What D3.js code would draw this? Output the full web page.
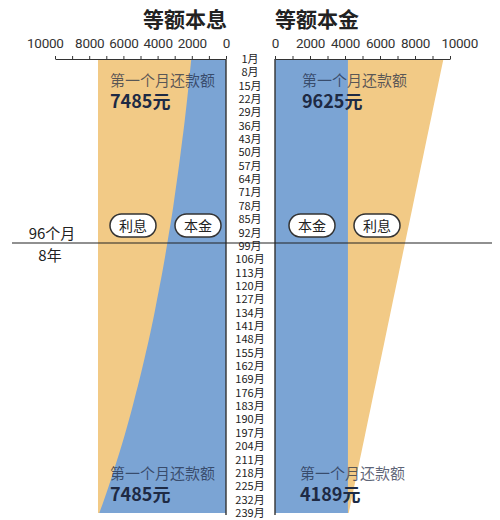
<!DOCTYPE html>
<html>
<head>
<meta charset="utf-8">
<script src="https://cdn.jsdelivr.net/npm/d3@7"></script>
<style>
  body { margin: 0; background: #fff; }
  svg { display: block; font-family: "Noto Sans CJK SC", "Noto Sans", sans-serif; }
</style>
</head>
<body>
<div id="chart"></div>
<script>
// month labels down the middle (every 7 months)
const months = [1,8,15,22,29,36,43,50,57,64,71,78,85,92,99,106,113,120,127,134,141,148,155,162,169,176,183,190,197,204,211,218,225,232,239];

// 等额本息: monthly total stays 7485, principal part grows
const epiTotal = 7485;
const epiPrincipal = [2030,2110,2190,2270,2360,2450,2550,2650,2750,2860,2970,3080,3200,3330,3460,3590,3730,3880,4030,4180,4340,4510,4690,4870,5060,5260,5460,5670,5890,6120,6360,6610,6860,7130,7410];

// 等额本金: principal part stays ~4167, monthly total falls
const epPrincipal = 4167;
const epTotal = [9625,9466,9307,9147,8988,8829,8670,8511,8351,8192,8033,7874,7715,7556,7396,7237,7078,6919,6760,6600,6441,6282,6123,5964,5805,5645,5486,5327,5168,5009,4850,4690,4531,4372,4213];

const tickValues = [0,1000,2000,3000,4000,5000,6000,7000,8000,9000,10000];

const W = 500, H = 520;
const blue = "#7ba4d4", yellow = "#f2ca86", ink = "#222";

const svg = d3.select("#chart").append("svg").attr("width", W).attr("height", H);

const y = d3.scaleLinear().domain([1, 239]).range([59, 513]);
const xL = d3.scaleLinear().domain([0, 10000]).range([226, 55]);
const xR = d3.scaleLinear().domain([0, 10000]).range([275, 450]);

const rows = months.map((m, i) => ({
  m: m,
  lp: epiPrincipal[i], lt: epiTotal,
  rp: epPrincipal, rt: epTotal[i]
}));

function band(x, key, color) {
  const area = d3.area()
    .y(d => y(d.m))
    .x0(x(0))
    .x1(d => x(d[key]))
    .curve(d3.curveMonotoneY);
  svg.append("path").datum(rows).attr("d", area).attr("fill", color);
}

// left: interest (yellow) under principal (blue)
band(xL, "lt", yellow);
band(xL, "lp", blue);
// right
band(xR, "rt", yellow);
band(xR, "rp", blue);

// titles
svg.append("text").attr("x", 185).attr("y", 27).attr("text-anchor", "middle")
  .attr("font-size", 21).attr("font-weight", "bold").attr("fill", ink).text("等额本息");
svg.append("text").attr("x", 317).attr("y", 27).attr("text-anchor", "middle")
  .attr("font-size", 21).attr("font-weight", "bold").attr("fill", ink).text("等额本金");

// axes
function drawAxis(x, side) {
  const g = svg.append("g").attr("transform", "translate(0,59)")
    .call(d3.axisTop(x).tickValues(tickValues).tickSize(3).tickSizeOuter(0).tickPadding(8)
      .tickFormat(d => d % 2000 === 0 ? d : ""));
  g.select(".domain").attr("stroke", "#333").attr("stroke-width", 1.2);
  g.selectAll(".tick line").attr("stroke", "#333");
  g.selectAll("text").attr("font-family", "Roboto, sans-serif").attr("font-size", 13.5)
    .attr("fill", "#333").attr("letter-spacing", -0.3);
  // the 10000 label sits outside the axis end, as in the original
  g.selectAll(".tick").filter(d => d === 10000).select("text")
    .attr("text-anchor", side === "left" ? "end" : "start")
    .attr("x", side === "left" ? 8 : -9);
}
drawAxis(xL, "left");
drawAxis(xR, "right");

// middle month column
svg.append("rect").attr("x", xL(0)).attr("y", 59).attr("width", xR(0) - xL(0)).attr("height", 456).attr("fill", "#fff");
[xL(0), xR(0)].forEach(xx => {
  svg.append("line").attr("x1", xx).attr("x2", xx).attr("y1", 59).attr("y2", 515)
    .attr("stroke", "#333").attr("stroke-width", 1.4);
});
svg.append("g").selectAll("text").data(months).enter().append("text")
  .attr("x", 250).attr("y", d => y(d)).attr("dy", "0.36em")
  .attr("text-anchor", "middle").attr("font-size", 11).attr("fill", ink)
  .text(d => d + "月");

// 96 months line
svg.append("line").attr("x1", 12).attr("x2", 492).attr("y1", 243).attr("y2", 243)
  .attr("stroke", ink).attr("stroke-width", 1.2);
svg.append("text").attr("x", 52).attr("y", 239).attr("text-anchor", "middle")
  .attr("font-size", 15).attr("fill", ink).text("96个月");
svg.append("text").attr("x", 50).attr("y", 261).attr("text-anchor", "middle")
  .attr("font-size", 15).attr("fill", ink).text("8年");

// pills
const pills = [["利息", 133], ["本金", 198], ["本金", 312], ["利息", 377]];
pills.forEach(p => {
  svg.append("rect").attr("x", p[1] - 23).attr("y", 214).attr("width", 46).attr("height", 23)
    .attr("rx", 11.5).attr("fill", "#fff").attr("stroke", "#333").attr("stroke-width", 1.5);
  svg.append("text").attr("x", p[1]).attr("y", 226).attr("dy", "0.36em").attr("text-anchor", "middle")
    .attr("font-size", 14).attr("fill", ink).text(p[0]);
});

// notes
const notes = [
  [110, 86, "7485元"],
  [302, 86, "9625元"],
  [110, 479, "7485元"],
  [300, 479, "4189元"]
];
notes.forEach(n => {
  svg.append("text").attr("x", n[0]).attr("y", n[1]).attr("font-size", 15)
    .attr("fill", "#1e2a44").attr("fill-opacity", 0.72).text("第一个月还款额");
  svg.append("text").attr("x", n[0]).attr("y", n[1] + 22).attr("font-size", 18)
    .attr("font-weight", "bold").attr("fill", "#1e2a44").text(n[2]);
});
</script>
</body>
</html>
